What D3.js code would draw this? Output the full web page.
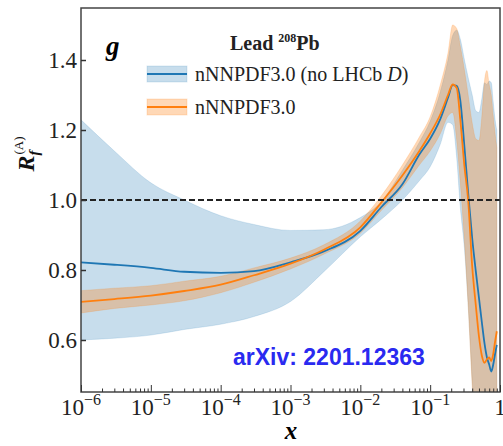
<!DOCTYPE html>
<html>
<head>
<meta charset="utf-8">
<script src="https://cdn.jsdelivr.net/npm/d3@7"></script>
<style>
  body { margin: 0; background: #fff; }
  svg { display: block; }
  .serif { font-family: "Liberation Serif", "Times New Roman", serif; }
</style>
</head>
<body>
<script>
// x grid (momentum fraction)
const xValues = [1e-6, 3e-6, 1e-5, 3e-5, 1e-4, 3e-4, 1e-3, 3e-3, 1e-2, 2e-2, 4e-2, 7e-2,
  0.10, 0.14, 0.18, 0.21, 0.24, 0.27, 0.31, 0.35, 0.40, 0.45, 0.50, 0.55, 0.60,
  0.65, 0.70, 0.75, 0.80, 0.85, 0.90];

// nNNPDF3.0 (no LHCb D) - central, lower, upper
const noLhcbMid = [0.822, 0.815, 0.806, 0.795, 0.792, 0.797, 0.822, 0.853, 0.912, 0.98, 1.045, 1.13,
  1.175, 1.232, 1.292, 1.328, 1.326, 1.285, 1.15, 1.02, 0.89, 0.797, 0.72, 0.65, 0.59,
  0.55, 0.53, 0.51, 0.53, 0.56, 0.586];
const noLhcbLo = [0.60, 0.605, 0.614, 0.63, 0.645, 0.667, 0.71, 0.795, 0.895, 0.945, 1.0, 1.055,
  1.095, 1.16, 1.222, 1.215, 1.12, 0.98, 0.86, 0.70, 0.48, 0.30, 0.30, 0.30, 0.30,
  0.30, 0.30, 0.30, 0.30, 0.30, 0.30];
const noLhcbHi = [1.229, 1.14, 1.049, 1.0, 0.955, 0.93, 0.913, 0.915, 0.95, 0.995, 1.085, 1.165,
  1.225, 1.31, 1.40, 1.47, 1.485, 1.46, 1.40, 1.35, 1.30, 1.255, 1.25, 1.29, 1.335,
  1.33, 1.34, 1.335, 1.28, 1.23, 1.20];

// nNNPDF3.0 - central, lower, upper
const nnpdfMid = [0.709, 0.717, 0.727, 0.74, 0.758, 0.785, 0.818, 0.858, 0.922, 0.993, 1.07, 1.14,
  1.19, 1.245, 1.30, 1.33, 1.32, 1.23, 1.095, 1.0, 0.81, 0.70, 0.61, 0.555, 0.535,
  0.545, 0.55, 0.54, 0.56, 0.595, 0.625];
const nnpdfLo = [0.677, 0.69, 0.70, 0.712, 0.735, 0.765, 0.803, 0.845, 0.905, 0.97, 1.035, 1.10,
  1.14, 1.19, 1.24, 1.25, 1.17, 1.05, 0.88, 0.70, 0.47, 0.30, 0.30, 0.30, 0.30,
  0.30, 0.30, 0.30, 0.30, 0.30, 0.30];
const nnpdfHi = [0.741, 0.748, 0.755, 0.768, 0.782, 0.806, 0.834, 0.872, 0.94, 1.012, 1.10, 1.18,
  1.238, 1.33, 1.42, 1.50, 1.49, 1.44, 1.37, 1.30, 1.22, 1.175, 1.17, 1.24, 1.34,
  1.37, 1.33, 1.30, 1.24, 1.19, 1.15];

const yTicks = [0.6, 0.8, 1.0, 1.2, 1.4];
const xTickExps = [-6, -5, -4, -3, -2, -1, 0];

const svgWidth = 503;
const svgHeight = 446;
const plot = {left: 81, top: 8, right: 500, bottom: 392};

const blue = '#1f77b4';
const orange = '#ff7f0e';

const svg = d3.select('body').append('svg')
  .attr('width', svgWidth)
  .attr('height', svgHeight);

const x = d3.scaleLog().domain([1e-6, 1]).range([plot.left, plot.right]);
const y = d3.scaleLinear().domain([0.4514, 1.5486]).range([plot.bottom, plot.top]);

svg.append('clipPath').attr('id', 'clip')
  .append('rect')
  .attr('x', plot.left).attr('y', plot.top)
  .attr('width', plot.right - plot.left).attr('height', plot.bottom - plot.top);

const gPlot = svg.append('g').attr('clip-path', 'url(#clip)');

const series = [
  {mid: noLhcbMid, lo: noLhcbLo, hi: noLhcbHi, color: blue, alpha: 0.25},
  {mid: nnpdfMid, lo: nnpdfLo, hi: nnpdfHi, color: orange, alpha: 0.3}
];

const band = s => d3.area()
  .x((d, i) => x(xValues[i]))
  .y0((d, i) => y(s.lo[i]))
  .y1((d, i) => y(s.hi[i]))
  .curve(d3.curveMonotoneX)(xValues);

const line = s => d3.line()
  .x((d, i) => x(xValues[i]))
  .y((d, i) => y(s.mid[i]))
  .curve(d3.curveMonotoneX)(xValues);

series.forEach(s => {
  gPlot.append('path')
    .attr('d', band(s))
    .attr('fill', s.color)
    .attr('fill-opacity', s.alpha)
    .attr('stroke', s.color)
    .attr('stroke-opacity', s.alpha * 0.6)
    .attr('stroke-width', 1);
});

series.forEach(s => {
  gPlot.append('path')
    .attr('d', line(s))
    .attr('fill', 'none')
    .attr('stroke', s.color)
    .attr('stroke-width', 1.8);
});

// reference line at 1
gPlot.append('line')
  .attr('x1', plot.left).attr('x2', plot.right)
  .attr('y1', y(1)).attr('y2', y(1))
  .attr('stroke', '#222')
  .attr('stroke-width', 2)
  .attr('stroke-dasharray', '6,3');

// frame
svg.append('rect')
  .attr('x', plot.left).attr('y', plot.top)
  .attr('width', plot.right - plot.left).attr('height', plot.bottom - plot.top)
  .attr('fill', 'none')
  .attr('stroke', '#444')
  .attr('stroke-width', 1.5);

// x axis ticks (inward)
const minorTicks = [];
xTickExps.slice(0, -1).forEach(e => {
  for (let k = 2; k <= 9; k++) minorTicks.push(k * Math.pow(10, e));
});
const majorTicks = xTickExps.map(e => Math.pow(10, e));

svg.append('g')
  .attr('transform', `translate(0,${plot.bottom})`)
  .call(d3.axisBottom(x).tickValues(minorTicks).tickSize(-3.5).tickFormat(''))
  .call(g => g.select('.domain').remove())
  .call(g => g.selectAll('line').attr('stroke', '#333'));

svg.append('g')
  .attr('transform', `translate(0,${plot.bottom})`)
  .call(d3.axisBottom(x).tickValues(majorTicks).tickSize(-7).tickFormat(''))
  .call(g => g.select('.domain').remove())
  .call(g => g.selectAll('line').attr('stroke', '#333'));

// x tick labels 10^n
const xLabels = svg.append('g')
  .attr('class', 'serif')
  .attr('fill', '#222');
xTickExps.forEach(e => {
  const t = xLabels.append('text')
    .attr('class', 'serif')
    .attr('x', x(Math.pow(10, e)))
    .attr('y', 415)
    .attr('text-anchor', 'middle')
    .attr('font-size', 23);
  if (e === 0) {
    t.text('1');
  } else {
    t.append('tspan').text('10');
    t.append('tspan').attr('dy', -10).attr('font-size', 16).text('\u2212' + Math.abs(e));
  }
});

// y axis
svg.append('g')
  .attr('transform', `translate(${plot.left},0)`)
  .call(d3.axisLeft(y).tickValues(yTicks).tickSize(-5).tickPadding(4).tickFormat(d3.format('.1f')))
  .call(g => g.select('.domain').remove())
  .call(g => g.selectAll('line').attr('stroke', '#333').attr('stroke-width', 1.5))
  .call(g => g.selectAll('text')
    .attr('class', 'serif')
    .attr('font-size', 23)
    .attr('fill', '#222'));

// axis titles
svg.append('text')
  .attr('class', 'serif')
  .attr('x', 291).attr('y', 439)
  .attr('text-anchor', 'middle')
  .attr('font-weight', 'bold')
  .attr('font-style', 'italic')
  .attr('font-size', 25)
  .text('x');

const yTitle = svg.append('text')
  .attr('class', 'serif')
  .attr('transform', 'translate(34,154) rotate(-90)')
  .attr('text-anchor', 'middle')
  .attr('fill', '#111');
yTitle.append('tspan')
  .attr('font-weight', 'bold').attr('font-style', 'italic').attr('font-size', 24)
  .text('R');
yTitle.append('tspan')
  .attr('font-style', 'italic').attr('font-weight', 'bold').attr('font-size', 15).attr('dy', 5)
  .text('f');
yTitle.append('tspan')
  .attr('font-size', 13).attr('dy', -16).attr('dx', -4)
  .text('(A)');

// panel letter
svg.append('text')
  .attr('class', 'serif')
  .attr('x', 106).attr('y', 55)
  .attr('font-weight', 'bold')
  .attr('font-style', 'italic')
  .attr('font-size', 27)
  .text('g');

// legend
const legend = svg.append('g').attr('class', 'serif').attr('fill', '#222');
const legTitle = legend.append('text')
  .attr('x', 230).attr('y', 50)
  .attr('font-weight', 'bold')
  .attr('font-size', 20);
legTitle.append('tspan').text('Lead ');
legTitle.append('tspan').attr('font-size', 12).attr('dy', -8).text('208');
legTitle.append('tspan').attr('dy', 8).text('Pb');

const legendItems = [
  {label: 'nNNPDF3.0 (no LHCb ', italic: 'D', tail: ')', color: blue, alpha: 0.25, y: 74},
  {label: 'nNNPDF3.0', italic: '', tail: '', color: orange, alpha: 0.3, y: 107}
];
legendItems.forEach(it => {
  legend.append('rect')
    .attr('x', 147).attr('y', it.y - 8)
    .attr('width', 40).attr('height', 16)
    .attr('fill', it.color).attr('fill-opacity', it.alpha)
    .attr('stroke', it.color).attr('stroke-opacity', it.alpha * 0.6);
  legend.append('line')
    .attr('x1', 147).attr('x2', 187)
    .attr('y1', it.y).attr('y2', it.y)
    .attr('stroke', it.color).attr('stroke-width', 1.8);
  const t = legend.append('text')
    .attr('x', 195).attr('y', it.y + 7)
    .attr('font-size', 20);
  t.append('tspan').text(it.label);
  if (it.italic) t.append('tspan').attr('font-style', 'italic').text(it.italic);
  if (it.tail) t.append('tspan').text(it.tail);
});

// arXiv note
svg.append('text')
  .attr('x', 233).attr('y', 365)
  .attr('font-family', '"Liberation Sans", Arial, sans-serif')
  .attr('font-weight', 'bold')
  .attr('font-size', 23)
  .attr('fill', '#2a2af0')
  .text('arXiv: 2201.12363');
</script>
</body>
</html>
